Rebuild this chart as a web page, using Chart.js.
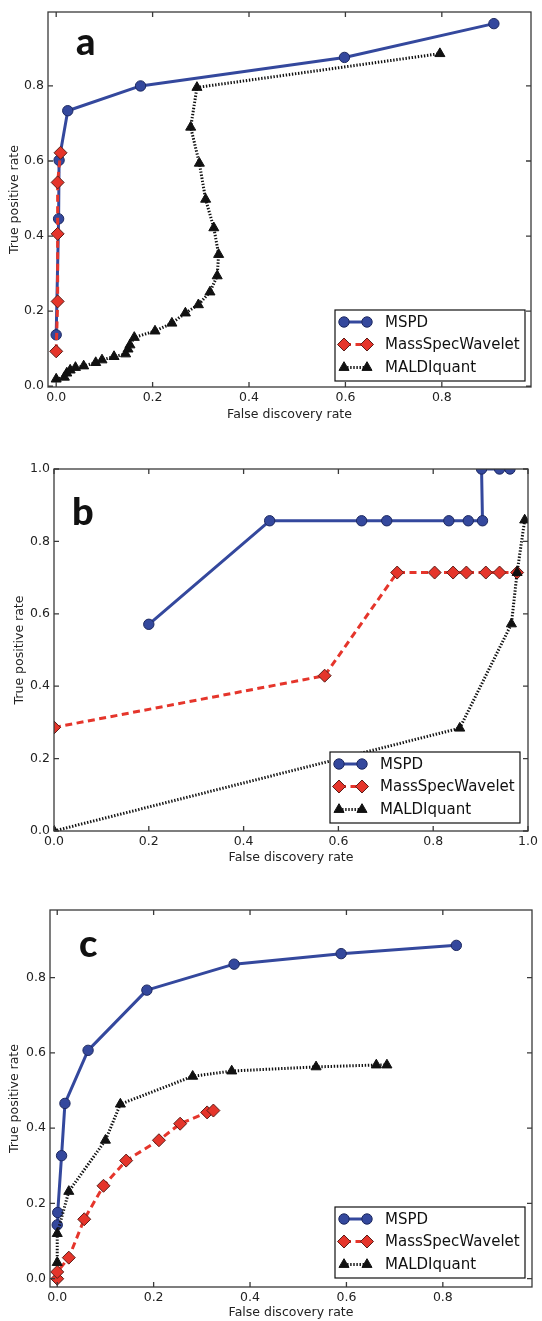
<!DOCTYPE html>
<html>
<head>
<meta charset="utf-8">
<title>Peak detection ROC</title>
<script src="https://cdn.jsdelivr.net/npm/chart.js@4/dist/chart.umd.min.js"></script>
<style>
  html, body { margin: 0; padding: 0; background: #fff; overflow: hidden; }
  body { width: 542px; height: 1321px; position: relative; }
  canvas { position: absolute; left: 0; }
</style>
</head>
<body>
<canvas id="panel-a" width="542" height="425" style="top:0px"></canvas>
<canvas id="panel-b" width="542" height="433" style="top:435px"></canvas>
<canvas id="panel-c" width="542" height="441" style="top:880px"></canvas>
<script>
// series names, same in all three panels
const seriesNames = ["MSPD", "MassSpecWavelet", "MALDIquant"];

// tick values
const ticksAC = [0, 0.2, 0.4, 0.6, 0.8];
const ticksB = [0, 0.2, 0.4, 0.6, 0.8, 1.0];

// panel a: [false discovery rate, true positive rate]
const mspdA = [[0.0, 0.137], [0.005, 0.446], [0.006, 0.602], [0.024, 0.734], [0.175, 0.800], [0.598, 0.876], [0.908, 0.966]];
const mswA = [[0.0, 0.093], [0.003, 0.226], [0.003, 0.406], [0.003, 0.543], [0.009, 0.622]];
const maldiA = [
  [0.0, 0.019], [0.017, 0.024], [0.022, 0.035], [0.029, 0.043], [0.040, 0.050], [0.057, 0.054],
  [0.082, 0.063], [0.095, 0.070], [0.120, 0.079], [0.144, 0.086], [0.149, 0.099], [0.153, 0.110],
  [0.162, 0.130], [0.205, 0.147], [0.240, 0.168], [0.268, 0.195], [0.295, 0.217], [0.319, 0.251],
  [0.334, 0.294], [0.337, 0.351], [0.327, 0.422], [0.310, 0.498], [0.297, 0.594], [0.279, 0.690],
  [0.292, 0.796], [0.796, 0.886]
];

// panel b
const mspdB = [[0.2, 0.571], [0.455, 0.857], [0.649, 0.857], [0.702, 0.857], [0.833, 0.857], [0.874, 0.857], [0.904, 0.857], [0.902, 1.0], [0.940, 1.0], [0.962, 1.0]];
const mswB = [[0.0, 0.286], [0.571, 0.429], [0.724, 0.714], [0.803, 0.714], [0.842, 0.714], [0.870, 0.714], [0.911, 0.714], [0.940, 0.714], [0.977, 0.714]];
const maldiB = [[0.0, 0.0], [0.856, 0.284], [0.965, 0.572], [0.977, 0.714], [0.993, 0.859]];

// panel c
const mspdC = [[0.0, 0.143], [0.001, 0.176], [0.009, 0.327], [0.016, 0.466], [0.064, 0.607], [0.186, 0.767], [0.367, 0.836], [0.589, 0.864], [0.828, 0.886]];
const mswC = [[0.0, 0.0], [0.0, 0.018], [0.024, 0.056], [0.056, 0.158], [0.096, 0.247], [0.143, 0.314], [0.211, 0.368], [0.255, 0.412], [0.311, 0.442], [0.324, 0.447]];
const maldiC = [[0.0, 0.043], [0.0, 0.120], [0.024, 0.232], [0.100, 0.368], [0.131, 0.464], [0.281, 0.538], [0.362, 0.552], [0.537, 0.563], [0.662, 0.568], [0.684, 0.568]];

const FONT = "'DejaVu Sans', 'Liberation Sans', sans-serif";
Chart.defaults.font.family = FONT;
Chart.defaults.color = "#222";

const seriesStyle = [
  { color: "#34489d", edge: "#1d2960", dash: [], style: "circle", radius: 5.2, order: 3 },
  { color: "#e5352b", edge: "#5b1d18", dash: [7, 4.5], style: "rectRot", radius: 6.5, order: 2 },
  { color: "#111111", edge: "#111111", dash: [1.4, 1.7], style: "triangle", radius: 5.8, order: 1 }
];

function makeDataset(i, pts) {
  const s = seriesStyle[i];
  return {
    label: seriesNames[i],
    data: pts.map(p => ({ x: p[0], y: p[1] })),
    showLine: true,
    borderColor: s.color,
    borderWidth: 3,
    borderDash: s.dash,
    borderJoinStyle: "round",
    pointStyle: s.style,
    pointRadius: s.radius,
    pointHoverRadius: s.radius,
    pointBackgroundColor: s.color,
    pointBorderColor: s.edge,
    pointBorderWidth: 1,
    order: s.order,
    clip: 0
  };
}

// box, inward ticks, panel letter and the legend
const framePlugin = {
  id: "frame",
  afterDatasetsDraw(chart, args, opts) {
    const { ctx, chartArea: a, scales } = chart;
    ctx.save();

    ctx.strokeStyle = "#3a3a3a";
    ctx.lineWidth = 1.3;
    ctx.beginPath();
    for (const t of scales.x.ticks) {
      const px = scales.x.getPixelForValue(t.value);
      ctx.moveTo(px, a.bottom); ctx.lineTo(px, a.bottom - 5);
      ctx.moveTo(px, a.top); ctx.lineTo(px, a.top + 5);
    }
    for (const t of scales.y.ticks) {
      const py = scales.y.getPixelForValue(t.value);
      ctx.moveTo(a.left, py); ctx.lineTo(a.left + 5, py);
      ctx.moveTo(a.right, py); ctx.lineTo(a.right - 5, py);
    }
    ctx.stroke();
    ctx.strokeRect(a.left, a.top, a.right - a.left, a.bottom - a.top);

    ctx.fillStyle = "#111";
    ctx.font = "900 38px Lato, 'Open Sans', " + FONT;
    ctx.textBaseline = "alphabetic";
    ctx.textAlign = "left";
    ctx.fillText(opts.letter, a.left + opts.letterX, a.top + opts.letterY);

    // legend box in the lower right corner
    const w = 190, h = 71;
    const bx = a.right - opts.legendRight - w;
    const by = a.bottom - opts.legendBottom - h;
    ctx.fillStyle = "#fff";
    ctx.fillRect(bx, by, w, h);
    ctx.strokeStyle = "#111";
    ctx.lineWidth = 1.2;
    ctx.strokeRect(bx, by, w, h);

    const rows = [12, 34.5, 57.5];
    chart.data.datasets.forEach((ds, i) => {
      const y = by + rows[i];
      const x1 = bx + 9, x2 = bx + 32;
      ctx.strokeStyle = ds.borderColor;
      ctx.lineWidth = ds.borderWidth;
      ctx.setLineDash(ds.borderDash);
      ctx.beginPath();
      ctx.moveTo(x1, y); ctx.lineTo(x2, y);
      ctx.stroke();
      ctx.setLineDash([]);
      ctx.fillStyle = ds.pointBackgroundColor;
      ctx.strokeStyle = ds.pointBorderColor;
      ctx.lineWidth = ds.pointBorderWidth;
      for (const x of [x1, x2]) {
        Chart.helpers.drawPoint(ctx, { pointStyle: ds.pointStyle, radius: ds.pointRadius, rotation: 0, borderWidth: ds.pointBorderWidth }, x, y);
      }
      ctx.fillStyle = "#111";
      ctx.font = "15px " + FONT;
      ctx.textBaseline = "middle";
      ctx.fillText(ds.label, bx + 50, y + 1);
    });

    ctx.restore();
  }
};

function makePanel(id, p) {
  const tickFont = { size: 12.5 };
  return new Chart(document.getElementById(id), {
    type: "scatter",
    data: { datasets: p.series.map((pts, i) => makeDataset(i, pts)) },
    options: {
      responsive: false,
      animation: false,
      devicePixelRatio: 1,
      layout: { padding: { top: p.top, right: p.right, left: 0, bottom: 0 } },
      plugins: {
        legend: { display: false },
        tooltip: { enabled: false },
        frame: p.frame
      },
      scales: {
        x: {
          type: "linear",
          min: p.xRange[0], max: p.xRange[1],
          afterBuildTicks: s => { s.ticks = p.ticks.map(v => ({ value: v })); },
          afterFit: s => { s.height = p.xAxisH; },
          grid: { display: false, drawTicks: false },
          border: { display: false },
          ticks: { font: tickFont, padding: 3, maxRotation: 0, callback: v => v.toFixed(1) },
          title: { display: true, text: "False discovery rate", font: { size: 12.5 }, padding: { top: 0, bottom: p.xTitlePad } }
        },
        y: {
          type: "linear",
          min: p.yRange[0], max: p.yRange[1],
          afterBuildTicks: s => { s.ticks = p.yTicks.map(v => ({ value: v })); },
          afterFit: s => { s.width = p.yAxisW; },
          grid: { display: false, drawTicks: false },
          border: { display: false },
          ticks: { font: tickFont, padding: 4, callback: v => v.toFixed(1) },
          title: { display: true, text: "True positive rate", font: { size: 12.5 }, padding: { top: p.yTitlePad, bottom: 0 } }
        }
      }
    },
    plugins: [framePlugin]
  });
}

makePanel("panel-a", {
  series: [mspdA, mswA, maldiA],
  ticks: ticksAC, yTicks: ticksAC,
  xRange: [-0.017, 0.985], yRange: [-0.002, 0.997],
  top: 12, right: 11, yAxisW: 48, xAxisH: 38,
  xTitlePad: 2.5, yTitlePad: 7.5,
  frame: { letter: "a", letterX: 28, letterY: 43, legendRight: 6, legendBottom: 6 }
});

makePanel("panel-b", {
  series: [mspdB, mswB, maldiB],
  ticks: ticksB, yTicks: ticksB,
  xRange: [0, 1], yRange: [0, 1],
  top: 34, right: 14, yAxisW: 54, xAxisH: 37,
  xTitlePad: 2.5, yTitlePad: 12,
  frame: { letter: "b", letterX: 18, letterY: 56, legendRight: 8, legendBottom: 8 }
});

makePanel("panel-c", {
  series: [mspdC, mswC, maldiC],
  ticks: ticksAC, yTicks: ticksAC,
  xRange: [-0.015, 0.985], yRange: [-0.022, 0.98],
  top: 30, right: 10, yAxisW: 50, xAxisH: 34,
  xTitlePad: 0.5, yTitlePad: 7.5,
  frame: { letter: "c", letterX: 29, letterY: 47, legendRight: 7, legendBottom: 9 }
});
</script>
</body>
</html>
